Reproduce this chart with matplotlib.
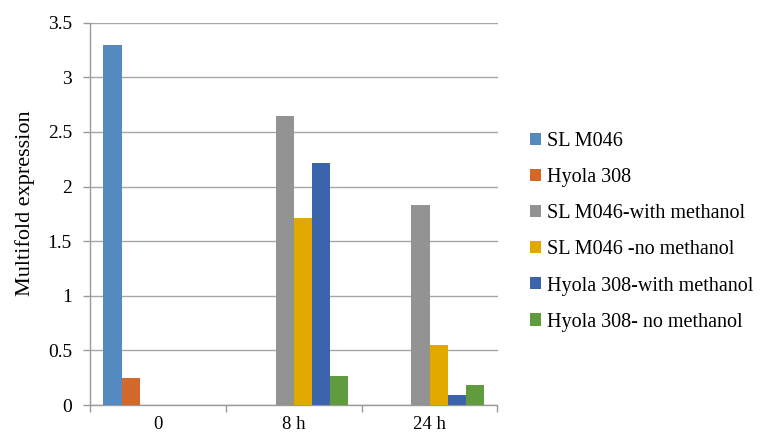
import matplotlib
matplotlib.use("Agg")
import matplotlib.pyplot as plt
from matplotlib.patches import Patch
import numpy as np

categories = ["0", "8 h", "24 h"]
series_names = [
    "SL M046",
    "Hyola 308",
    "SL M046-with methanol",
    "SL M046 -no methanol",
    "Hyola 308-with methanol",
    "Hyola 308- no methanol",
]
sl_m046 = [3.30, 0, 0]
hyola_308 = [0.25, 0, 0]
sl_m046_with_methanol = [0, 2.65, 1.83]
sl_m046_no_methanol = [0, 1.71, 0.55]
hyola_308_with_methanol = [0, 2.22, 0.09]
hyola_308_no_methanol = [0, 0.27, 0.18]
y_ticks = [0, 0.5, 1, 1.5, 2, 2.5, 3, 3.5]
y_tick_labels = ["0", "0.5", "1", "1.5", "2", "2.5", "3", "3.5"]

all_series = [sl_m046, hyola_308, sl_m046_with_methanol,
              sl_m046_no_methanol, hyola_308_with_methanol, hyola_308_no_methanol]
colors = ["#548ac0", "#d2692a", "#939393", "#e1a800", "#3c64ac", "#609b3e"]

plt.rcParams["font.family"] = ["Liberation Serif", "DejaVu Serif"]

fig = plt.figure(figsize=(7.63, 4.37), dpi=100)
ax = fig.add_axes([90 / 763, (437 - 405) / 437, (497.5 - 90) / 763, (405 - 22.7) / 437])

n = len(all_series)
bar_w = 0.134
gap = 1 - n * bar_w
x = np.arange(len(categories))
for i, (vals, c) in enumerate(zip(all_series, colors)):
    offs = -0.5 + gap / 2 + (i + 0.5) * bar_w
    ax.bar(x + offs, vals, width=bar_w, color=c, zorder=3, linewidth=0)

ax.set_xlim(-0.5, len(categories) - 0.5)
ax.set_ylim(0, 3.5)
ax.set_yticks(y_ticks)
ax.set_yticklabels(y_tick_labels, fontsize=14)
ax.set_xticks(x)
ax.set_xticklabels(categories, fontsize=13.5)
ax.set_xticks(np.arange(len(categories) + 1) - 0.5, minor=True)
ax.tick_params(axis="x", which="major", length=0, pad=8)
ax.tick_params(axis="x", which="minor", length=5, color="#9a9a9a", width=1)
ax.tick_params(axis="y", length=5, color="#9a9a9a", width=1, pad=8)

ax.grid(axis="y", color="#a6a6a6", linewidth=1, zorder=0)
for side in ["top", "right"]:
    ax.spines[side].set_visible(False)
ax.spines["left"].set_color("#9a9a9a")
ax.spines["bottom"].set_color("#9a9a9a")
ax.spines["left"].set_linewidth(1)
ax.spines["bottom"].set_linewidth(1)

ax.set_ylabel("Multifold expression", fontsize=16)
ax.yaxis.set_label_coords(-0.135, 0.527)

handles = [Patch(facecolor=c, edgecolor="none") for c in colors]
fig.legend(handles, series_names, loc="upper left",
           bbox_to_anchor=(522 / 763, 1 - 124 / 437), frameon=False,
           fontsize=14.5, handlelength=0.55, handleheight=0.55,
           handletextpad=0.3, labelspacing=0.85, borderaxespad=0)

fig.savefig("out.png", dpi=100)
